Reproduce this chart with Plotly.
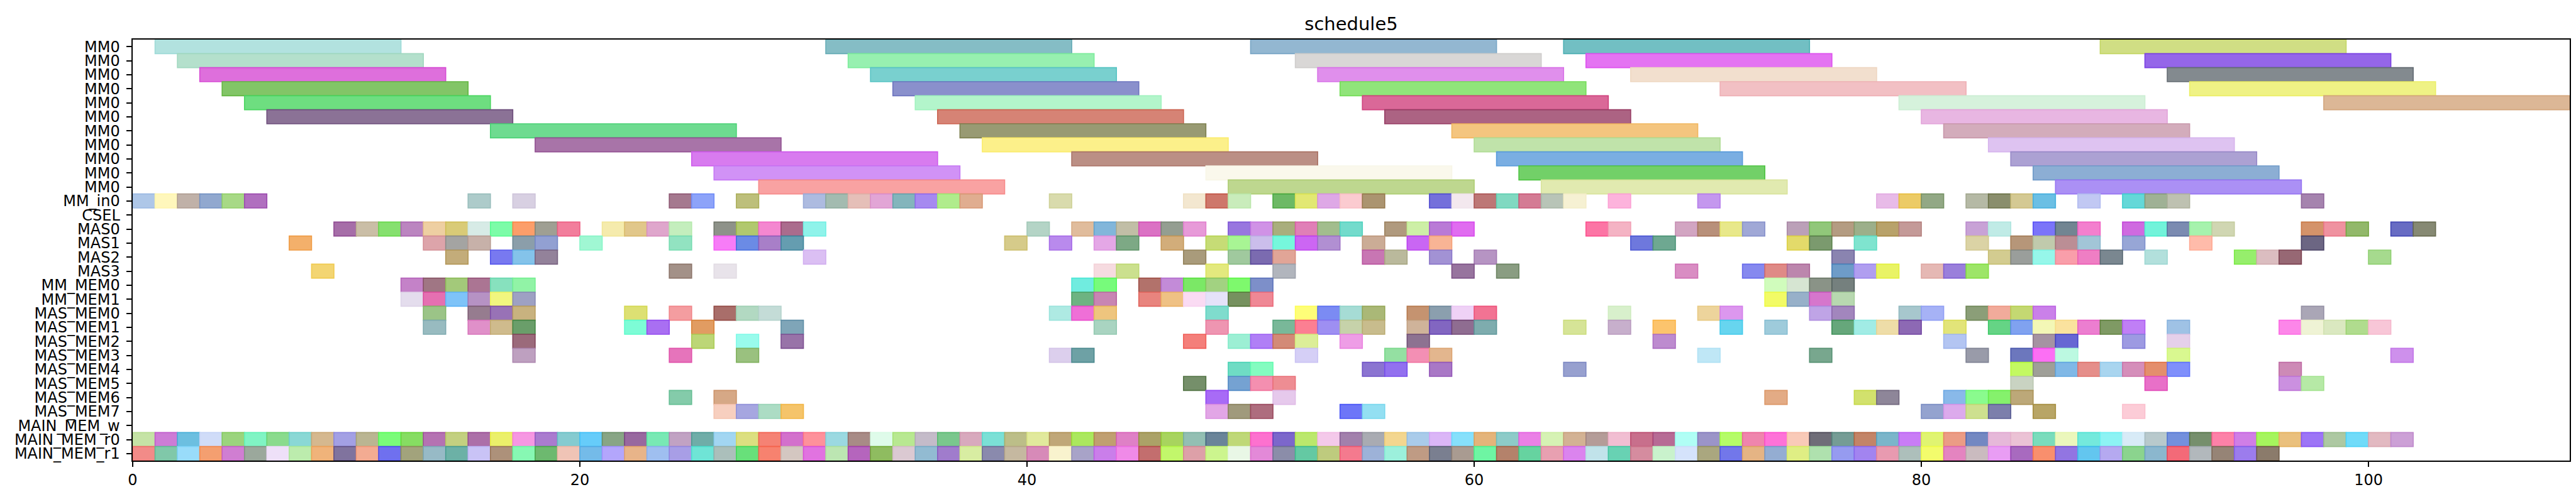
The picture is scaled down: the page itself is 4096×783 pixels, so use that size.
import plotly.graph_objects as go

# ---------------- data ----------------
ROW_LABELS = (["MM0"] * 11 +
              ["MM_in0", "CSEL", "MAS0", "MAS1", "MAS2", "MAS3", "MM_MEM0", "MM_MEM1"] +
              ["MAS_MEM0", "MAS_MEM1", "MAS_MEM2", "MAS_MEM3", "MAS_MEM4", "MAS_MEM5", "MAS_MEM6", "MAS_MEM7"] +
              ["MAIN_MEM_w", "MAIN_MEM_r0", "MAIN_MEM_r1"])

MM0_DUR = 11
UNIT_DUR = 1
X_TICKS = [0, 20, 40, 60, 80, 100]
X_MAX = 109

mm0_starts = [
    [1, 31, 50, 64, 88],
    [2, 32, 52, 65, 90],
    [3, 33, 53, 67, 91],
    [4, 34, 54, 71, 92],
    [5, 35, 55, 79, 98],
    [6, 36, 56, 80],
    [16, 37, 59, 81],
    [18, 38, 60, 83],
    [25, 42, 61, 84],
    [26, 48, 62, 85],
    [28, 49, 63, 86],
]
mm0_colors = [
    ["#b2e2df", "#85bdc5", "#93b7d1", "#72bfc3", "#d0de84"],
    ["#b4e0cc", "#97f0b0", "#d9d7d6", "#e473f2", "#9566e9"],
    ["#de6fdc", "#79d0cf", "#e08fec", "#f2dfce", "#838a8f"],
    ["#82c567", "#8a90cc", "#90e47a", "#f2c0c4", "#eff285"],
    ["#6ede80", "#b3f5cb", "#da6898", "#d6f2dc", "#dcb796"],
    ["#8b7296", "#d68375", "#ac6383", "#e8b6e2"],
    ["#6edb90", "#989a73", "#f4c57f", "#d3acbb"],
    ["#a874a8", "#fcf08a", "#c0e3aa", "#dec3f1"],
    ["#d87bef", "#bb8f85", "#7aaee2", "#aca1d3"],
    ["#d192f6", "#faf8ec", "#72d068", "#8caed4"],
    ["#f9a2a2", "#bed78f", "#e1eab0", "#ab90f5"],
]

mm_in0_t = [0, 1, 2, 3, 4, 5, 15, 17, 24, 25, 27, 30, 31, 32, 33, 34, 35, 36, 37, 41, 47, 48, 49,
            51, 52, 53, 54, 55, 58, 59, 60, 61, 62, 63, 64, 66, 70, 78, 79, 80, 82, 83, 84, 85,
            87, 89, 90, 91, 97]
mm_in0_c = ["#aec7e8", "#fff7bc", "#c0b1a8", "#91a8cf", "#a7d986", "#b06fbf", "#adcbca", "#d8d0e2",
            "#a5798f", "#8da3f9", "#bdbf7b", "#adbbe0", "#a3bbb0", "#e5bfb8", "#e2a5d6", "#83b5bc",
            "#a689f0", "#b0ec8c", "#e0ad90", "#d9dbad", "#f3e7d0", "#ce776b", "#c9ecbb", "#6db965",
            "#e2e873", "#dea8e6", "#fbcbd0", "#ab9470", "#7470db", "#f3e8ee", "#bd7776", "#80d9c1",
            "#d47b94", "#b8c4b7", "#f6f1d3", "#fdb3dc", "#c497ee", "#e8bbe8", "#eccb66", "#92a885",
            "#b5b9a5", "#8a8e6d", "#d4c993", "#6bbfe4", "#c1c8f3", "#64d8d8", "#9fb195", "#bec1b1",
            "#a583ae"]

csel_t = []
csel_c = []

mas0_t = [9, 10, 11, 12, 13, 14, 15, 16, 17, 18, 19, 21, 22, 23, 24, 26, 27, 28, 29, 30, 40, 42, 43,
          44, 45, 46, 47, 49, 50, 51, 52, 53, 54, 56, 57, 58, 59, 65, 66, 69, 70, 71, 72, 74, 75, 76,
          77, 78, 79, 82, 83, 85, 86, 87, 89, 90, 91, 92, 93, 97, 98, 99, 101, 102]
mas0_c = ["#a66ea8", "#cabea6", "#86e06f", "#bb85c0", "#eecfa2", "#d9cb77", "#d7ebe6", "#7cfca8",
          "#fc9e6a", "#9f9f93", "#f27e9c", "#f5ebad", "#e1c78a", "#dfa6cc", "#c4eebd", "#8e9289",
          "#b1c86e", "#f487d0", "#ab6c8d", "#8ff3ea", "#b4d4c6", "#e0bc9c", "#82b6da", "#c1bea6",
          "#db72c4", "#949e91", "#e79ad8", "#9876df", "#d092e6", "#a9ae7d", "#e07fb7", "#a2bd8d",
          "#73dbcc", "#b09a7e", "#cdefa6", "#b97ad6", "#e06cf0", "#fc75a5", "#f4b3c4", "#d2a5c2",
          "#b8907a", "#e8e88a", "#a0a8d6", "#bba0b8", "#91c77a", "#b49c82", "#9caf8a", "#b8a26a",
          "#c49a98", "#c8a2d6", "#c0ebe6", "#7b74f9", "#728592", "#f37fce", "#cf6ae0", "#72f3da",
          "#7b8bb1", "#a6f2ad", "#d0d6b2", "#d4936a", "#ef92a0", "#92b86a", "#686cc3", "#868973"]

mas1_t = [7, 13, 14, 15, 17, 18, 20, 24, 26, 27, 28, 29, 39, 41, 43, 44, 46, 48, 49, 50, 51, 52, 53,
          55, 57, 58, 67, 68, 74, 75, 77, 82, 84, 85, 86, 87, 89, 92, 97]
mas1_c = ["#f3b06b", "#dda4aa", "#a4a4a2", "#c7b1a9", "#8b9eaa", "#92a0d2", "#a0f7d3", "#92e3c1",
          "#f77cf7", "#6b8be5", "#a87fc8", "#659db0", "#d6cb8a", "#b98aed", "#e4a7e6", "#7da985",
          "#d2ad7a", "#c6dc76", "#a8f594", "#cbbeeb", "#76f7dc", "#cc66f3", "#b18fd2", "#cbac96",
          "#c966f3", "#f8b495", "#6e78dd", "#6ea891", "#e3da6a", "#7b9a6e", "#7fe4cf", "#dbd3a5",
          "#b69679", "#c0caac", "#bb8e95", "#a2c5d7", "#97a6d6", "#ffbbaa", "#6c6683"]

mas2_t = [14, 16, 17, 18, 30, 47, 49, 50, 51, 55, 56, 58, 60, 76, 83, 84, 85, 86, 87, 88, 90, 94, 95,
          96, 100]
mas2_c = ["#c3ac7a", "#7879f0", "#84c3ea", "#93829a", "#dbbff3", "#a99b7b", "#a0c99e", "#7b6bb0",
          "#e1a597", "#c876b3", "#bab99c", "#a292d4", "#b694c3", "#8a84b0", "#d3cc90", "#9a9e9b",
          "#96f7ea", "#f99eaa", "#ef7ec4", "#7a8790", "#b2e0dc", "#96ee6c", "#dbbdc0", "#976874",
          "#a6da8e"]

mas3_t = [8, 24, 26, 43, 44, 48, 51, 59, 61, 69, 72, 73, 74, 76, 77, 78, 80, 81, 82]
mas3_c = ["#f3d572", "#a39188", "#e8e3ea", "#f6dbe0", "#cbe08e", "#e3e97e", "#b1b5bd", "#97749e",
          "#8a9d82", "#d98dc3", "#8689ef", "#df8a86", "#bc86ad", "#6e9cc8", "#b09ef0", "#e9f365",
          "#e5b8b4", "#9a7fdb", "#9de568"]

mm_mem0_t = [12, 13, 14, 15, 16, 17, 42, 43, 45, 46, 47, 48, 49, 50, 73, 74, 75, 76]
mm_mem0_c = ["#c482c8", "#a07684", "#a3c97a", "#ab7593", "#87e1be", "#91f3a6", "#70ecdf", "#77fb7b",
             "#b2726b", "#c38bd8", "#7be866", "#a2d281", "#7ef96d", "#7d8fc9", "#d0fcbc", "#d6e5d2",
             "#8a9387", "#75807e"]

mm_mem1_t = [12, 13, 14, 15, 16, 17, 42, 43, 45, 46, 47, 48, 49, 50, 73, 74, 75, 76]
mm_mem1_c = ["#e4dded", "#e570b1", "#7ec3f8", "#b692c4", "#f1f67f", "#9ea1c3", "#6db382", "#c885b3",
             "#e8847e", "#efc184", "#fadbf3", "#e5e2f9", "#76915f", "#ef8895", "#f2fb66", "#97b0c9",
             "#d676cc", "#b8d8b0"]

mas_mem0_t = [13, 15, 16, 17, 22, 24, 26, 27, 28, 41, 42, 43, 48, 52, 53, 54, 55, 57, 58, 59, 60, 66,
              70, 71, 75, 76, 79, 80, 82, 83, 84, 85, 97]
mas_mem0_c = ["#9bc487", "#967c8f", "#9872b6", "#c8b27f", "#dde073", "#f49da0", "#a96e6a", "#b2d9c2",
              "#c4dcd7", "#aeeae3", "#ef6fd7", "#eec57e", "#7fdccd", "#fefe78", "#7b8bf3", "#a6dcd5",
              "#aab877", "#c59370", "#8b9fae", "#efd2f6", "#f27393", "#d8f0cc", "#edd49c", "#dc97ee",
              "#bfa4e6", "#a286bd", "#a7c7cd", "#a6b2f6", "#8b9e78", "#f1ab9b", "#c4d872", "#ca80e9",
              "#aaa6b6"]

mas_mem1_t = [13, 15, 16, 17, 22, 23, 25, 29, 43, 48, 51, 52, 53, 54, 55, 57, 58, 59, 60, 64, 66, 68,
              71, 73, 76, 77, 78, 79, 81, 83, 84, 85, 86, 87, 88, 89, 91, 96, 97, 98, 99, 100]
mas_mem1_c = ["#98bbc0", "#e090c9", "#cfbb8d", "#6a9e6a", "#7dfcd6", "#a96ff2", "#e19c62", "#7fa5b8",
              "#a9d4c1", "#ee95b1", "#79b899", "#fc7f92", "#9e8ff2", "#c6d2aa", "#c8bc8d", "#cfb39a",
              "#8266c1", "#8f6d91", "#7eacae", "#d6e497", "#c7afcc", "#fcc46d", "#67d5ef", "#9ecbdb",
              "#66a77b", "#a1ece5", "#eedda8", "#8d69b4", "#e2e479", "#65d485", "#80a2f0", "#f3f7b6",
              "#fae29e", "#ec7ed0", "#7f9a64", "#c07ff6", "#9fc2e5", "#fd86e9", "#eff3d5", "#dae8c0",
              "#b0dc8e", "#f8c6d7"]

mas_mem2_t = [17, 25, 27, 29, 47, 49, 50, 51, 52, 54, 57, 68, 81, 85, 86, 89, 91]
mas_mem2_c = ["#9b6a7b", "#bcd677", "#99fbec", "#9873a8", "#f47f7a", "#9cefd4", "#b07ff6", "#d38a77",
              "#dcee98", "#ee9de6", "#8d7291", "#bd8bcf", "#b3c5f2", "#a593a2", "#6767d3", "#9d9ae2",
              "#e5d0ea"]

mas_mem3_t = [17, 24, 27, 41, 42, 52, 56, 57, 58, 70, 75, 82, 84, 85, 86, 91, 101]
mas_mem3_c = ["#bea0c0", "#e674bb", "#9ac17f", "#dccfed", "#6ea1a5", "#d5cff6", "#94e0a2", "#f38fb4",
              "#e3b68e", "#bfe7f6", "#78a78e", "#999ba9", "#6c77bd", "#fc6ff4", "#bcf9e1", "#d9f890",
              "#ce90ec"]

mas_mem4_t = [49, 50, 55, 56, 58, 64, 84, 85, 86, 87, 88, 89, 90, 91, 96]
mas_mem4_c = ["#6fdcc4", "#84fcc0", "#8b74d1", "#9270ef", "#a978c6", "#97a0cf", "#c3f962", "#9f9f98",
              "#80b8e6", "#e58e8a", "#a9d5ef", "#d58eba", "#e48e6c", "#7f8ffb", "#cd8ab6"]

mas_mem5_t = [47, 49, 50, 51, 84, 90, 96, 97]
mas_mem5_c = ["#758f6a", "#75a2d2", "#f48fb0", "#ee8d93", "#c9d3c2", "#e870c8", "#cb90e0", "#b6e9a6"]

mas_mem6_t = [24, 26, 48, 51, 73, 77, 78, 81, 82, 83, 84]
mas_mem6_c = ["#84cbaa", "#d6a886", "#a86bf6", "#e6c9ec", "#e3ab85", "#d2e16d", "#8e8699", "#89b9e9",
              "#8afb8e", "#85f16c", "#bca879"]

mas_mem7_t = [26, 27, 28, 29, 48, 49, 50, 54, 55, 80, 81, 82, 83, 85, 89]
mas_mem7_c = ["#f7cfbf", "#a6a6e0", "#acdcc4", "#f5c46a", "#e2a6e6", "#a09a7c", "#ae6d7e", "#6d76f8",
              "#93dff2", "#94a3cf", "#dcaaec", "#cde08f", "#7c7fab", "#b8a566", "#fcccd7"]

main_mem_w_t = []
main_mem_w_c = []

main_mem_r0_t = [0, 1, 2, 3, 4, 5, 6, 7, 8, 9, 10, 11, 12, 13, 14, 15, 16, 17, 18, 19, 20, 21, 22, 23,
                 24, 25, 26, 27, 28, 29, 30, 31, 32, 33, 34, 35, 36, 37, 38, 39, 40, 41, 42, 43, 44,
                 45, 46, 47, 48, 49, 50, 51, 52, 53, 54, 55, 56, 57, 58, 59, 60, 61, 62, 63, 64, 65,
                 66, 67, 68, 69, 70, 71, 72, 73, 74, 75, 76, 77, 78, 79, 80, 81, 82, 83, 84, 85, 86,
                 87, 88, 89, 90, 91, 92, 93, 94, 95, 96, 97, 98, 99, 100, 101]
main_mem_r0_c = ["#c5e3a6", "#cd7cd6", "#6cbfe0", "#d0dcf8", "#9bd47d", "#80f4c4", "#8adb8d", "#8ad8d5",
                 "#d5b88f", "#a3a0e4", "#bab592", "#7afc79", "#86dd62", "#b572b2", "#c3d080", "#ac6fa8",
                 "#ebf06a", "#f697e2", "#aa7bcf", "#85cbd0", "#66ccfa", "#88a585", "#98689f", "#78e9b4",
                 "#c1a2c3", "#6fada8", "#a2d6f2", "#dcdf80", "#f58274", "#d370cc", "#fe919b", "#9bd9e1",
                 "#a88b86", "#dffbea", "#b8e891", "#c4bbc9", "#7ac78d", "#d8a9bd", "#7be0d6", "#bcbe88",
                 "#e1e99c", "#c0a778", "#abe85e", "#c09f70", "#df80c6", "#aba267", "#a8d45e", "#93bfb3",
                 "#6a8499", "#bfd878", "#fd71cf", "#7c67cb", "#bbe86c", "#f4c9ea", "#a280ac", "#a9abb2",
                 "#f3d68f", "#a9cbea", "#dbb6f7", "#86e0fb", "#e4b47a", "#8dcbc8", "#ea80e6", "#d6f2b4",
                 "#d3b294", "#b49c98", "#f1bed2", "#c86f8c", "#b76b95", "#b0fef5", "#9b94c8", "#b5fc68",
                 "#ef85ad", "#fe72d8", "#f9cab8", "#6f6d78", "#759c95", "#c38467", "#7ab5ca", "#c97cf6",
                 "#e0f471", "#eb9c85", "#7388c2", "#e6b8d9", "#ebc2d5", "#7adcbc", "#ebf7bc", "#74e9dc",
                 "#8df3f4", "#d8ebf7", "#b8c9cc", "#7390dd", "#768f6c", "#fd81a8", "#d07ee6", "#a5f55d",
                 "#eac07d", "#9d75f6", "#adc8a2", "#70dbf9", "#e2b9c1", "#cca0d6"]

main_mem_r1_t = [0, 1, 2, 3, 4, 5, 6, 7, 8, 9, 10, 11, 12, 13, 14, 15, 16, 17, 18, 19, 20, 21, 22, 23,
                 24, 25, 26, 27, 28, 29, 30, 31, 32, 33, 34, 35, 36, 37, 38, 39, 40, 41, 42, 43, 44,
                 45, 46, 47, 48, 49, 50, 51, 52, 53, 54, 55, 56, 57, 58, 59, 60, 61, 62, 63, 64, 65,
                 66, 67, 68, 69, 70, 71, 72, 73, 74, 75, 76, 77, 78, 79, 80, 81, 82, 83, 84, 85, 86,
                 87, 88, 89, 90, 91, 92, 93, 94, 95]
main_mem_r1_c = ["#f28b88", "#80c8a9", "#99dcfa", "#f49f70", "#d07ed2", "#9ba89c", "#eee0f8", "#bcecad",
                 "#f0b37a", "#80739e", "#f3ab92", "#6f70ef", "#a2a37c", "#97bac6", "#6cb1a6", "#c9c3f6",
                 "#ad917a", "#87f8b3", "#6db96f", "#f0c4b6", "#74bbe9", "#b3a6fc", "#e8b489", "#9fbff0",
                 "#a89ee6", "#6fe4d6", "#abbfbb", "#68e07a", "#f7826f", "#d4c7c1", "#e173e0", "#bce6b2",
                 "#b565bd", "#8fbc60", "#dbc9d2", "#92bbd2", "#a07ccc", "#d8eda2", "#8a8aad", "#c5b8a0",
                 "#d78ab8", "#f9f3ce", "#a8a3c8", "#ca7eea", "#f08ae8", "#c36e6e", "#c2f76b", "#dda0a8",
                 "#ccf58e", "#e9f7e6", "#e389d8", "#8b8da9", "#64c9a3", "#becb7e", "#f47a8e", "#9db2d8",
                 "#9cf0dc", "#bf9b84", "#7a7f90", "#a99b91", "#6ef5a3", "#b4826b", "#66d3a0", "#e8a0b1",
                 "#db84ee", "#c1e3ea", "#68d2b3", "#d58c9f", "#c9f2cc", "#d5e3fb", "#aaa77f", "#7277ea",
                 "#e5b484", "#94add2", "#dfee84", "#afe1ae", "#969bf0", "#a284f0", "#e89ab0", "#adbfbb",
                 "#f3fc6c", "#e484c0", "#cabbbf", "#e99df4", "#a86abf", "#f98f6d", "#9275e2", "#63c6ef",
                 "#b5a9f0", "#8bd48e", "#8bb7ce", "#f36a78", "#b2b8bc", "#968476", "#9c7ced", "#8b7b6b"]

# ---------------- styling helpers ----------------
FONT = "DejaVu Sans"


def edge_color(hexc):
    h = hexc.lstrip('#')
    vals = [int(h[i:i + 2], 16) for i in (0, 2, 4)]
    out = [max(0, min(255, int(round(1.25 * v - 64)))) for v in vals]
    return "rgb({},{},{})".format(*out)


fig = go.Figure()


def add_row(row_idx, starts, colors, dur):
    if not starts:
        return
    n = min(len(starts), len(colors))
    starts = starts[:n]
    colors = colors[:n]
    fig.add_trace(go.Bar(
        orientation='h',
        y=[row_idx] * n,
        base=starts,
        x=[dur] * n,
        width=1.0,
        marker=dict(color=colors,
                    line=dict(color=[edge_color(c) for c in colors], width=1.6)),
        showlegend=False,
        hoverinfo='skip',
    ))


for i in range(11):
    add_row(i, mm0_starts[i], mm0_colors[i], MM0_DUR)

other_rows = [
    (mm_in0_t, mm_in0_c), (csel_t, csel_c), (mas0_t, mas0_c), (mas1_t, mas1_c),
    (mas2_t, mas2_c), (mas3_t, mas3_c), (mm_mem0_t, mm_mem0_c), (mm_mem1_t, mm_mem1_c),
    (mas_mem0_t, mas_mem0_c), (mas_mem1_t, mas_mem1_c), (mas_mem2_t, mas_mem2_c),
    (mas_mem3_t, mas_mem3_c), (mas_mem4_t, mas_mem4_c), (mas_mem5_t, mas_mem5_c),
    (mas_mem6_t, mas_mem6_c), (mas_mem7_t, mas_mem7_c), (main_mem_w_t, main_mem_w_c),
    (main_mem_r0_t, main_mem_r0_c), (main_mem_r1_t, main_mem_r1_c),
]
for k, (ts, cs) in enumerate(other_rows):
    add_row(11 + k, ts, cs, UNIT_DUR)

n_rows = len(ROW_LABELS)

fig.update_layout(
    width=4096, height=783, autosize=False,
    margin=dict(l=203, r=18, t=55, b=58, pad=0),
    paper_bgcolor='white', plot_bgcolor='white',
    barmode='overlay',
    font=dict(family=FONT, size=24, color='black'),
    title=dict(text='schedule5', x=0.5, xref='paper', xanchor='center',
               y=1 - 40 / 783, yref='container', yanchor='bottom',
               font=dict(family=FONT, size=29, color='black')),
    showlegend=False,
)
fig.update_xaxes(range=[0, X_MAX], tickmode='array', tickvals=X_TICKS,
                 ticks='outside', ticklen=8.5, tickwidth=1.9, tickcolor='black',
                 showline=True, linewidth=1.9, linecolor='black', mirror=True,
                 showgrid=False, zeroline=False, tickfont=dict(family=FONT, size=24, color='black'))
fig.update_yaxes(range=[n_rows - 0.5, -0.5], tickmode='array', tickvals=list(range(n_rows)),
                 ticktext=ROW_LABELS, ticklabelstandoff=5,
                 ticks='outside', ticklen=8.5, tickwidth=1.9, tickcolor='black',
                 showline=True, linewidth=1.9, linecolor='black', mirror=True,
                 showgrid=False, zeroline=False, tickfont=dict(family=FONT, size=24, color='black'))

fig.write_html("out.html")
